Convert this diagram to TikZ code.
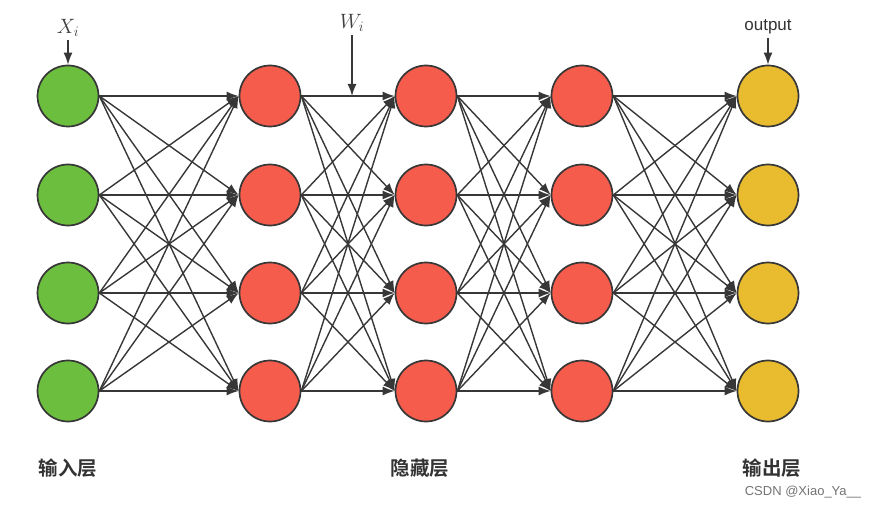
\documentclass[tikz,border=0pt]{standalone}
\usepackage{fontspec}
\setsansfont{Liberation Sans}
\newfontfamily\cjk{Noto Sans CJK SC Bold}
\usetikzlibrary{arrows.meta,positioning}
\definecolor{ingreen}{RGB}{108,190,62}
\definecolor{hidred}{RGB}{245,92,76}
\definecolor{outyellow}{RGB}{232,188,46}
\definecolor{edgegray}{RGB}{55,55,55}
\tikzset{
    neuron/.style={circle, draw=edgegray, line width=1.7pt, minimum size=61pt, inner sep=0pt},
    link/.style={edgegray, line width=1.4pt, -{Latex[length=12pt,width=9pt]}},
    layertext/.style={font=\cjk\fontsize{19.5}{19.5}\selectfont, text=black!80}
}

\begin{document}
\begin{tikzpicture}[x=1pt,y=-1pt]
    \useasboundingbox (0,0) rectangle (876,508);

    % 神经元
    \foreach \c/\x/\col in {1/68/ingreen, 2/270/hidred, 3/426/hidred, 4/582/hidred, 5/768/outyellow} {
        \foreach \r/\y in {1/96, 2/195, 3/293, 4/391} {
            \node[neuron, fill=\col] (n\c\r) at (\x,\y) {};
        }
    }

    % 连接
    \foreach \c/\d in {1/2, 2/3, 3/4, 4/5} {
        \foreach \r in {1,...,4} {
            \foreach \s in {1,...,4} {
                \draw[link] (n\c\r.east) -- (n\d\s.west);
            }
        }
    }

    % 输入、权重、输出
    \node[text=black!75] (xin) at (68,28) {\fontsize{22}{22}\selectfont $X_i$};
    \draw[link] (xin.south) -- (n11.north);
    \node[text=black!75] (wgt) at (352,23) {\fontsize{22}{22}\selectfont $W_i$};
    \coordinate (wend) at (352,96);
    \draw[link] (wgt.south) -- (wend);
    \node[font=\sffamily\fontsize{17}{17}\selectfont, text=black!80] (outl) at (768,27) {output};
    \draw[link] (outl.south) -- (n51.north);

    % 层名
    \node[layertext] (inl) at (68,468) {输入层};
    \node[layertext] (hidl) at (420,468) {隐藏层};
    \node[layertext] (outn) at (772,468) {输出层};

    \node[font=\sffamily\fontsize{13}{13}\selectfont, text=black!55] (mark) at (803,492) {CSDN @Xiao\_Ya\_\_};
\end{tikzpicture}
\end{document}
